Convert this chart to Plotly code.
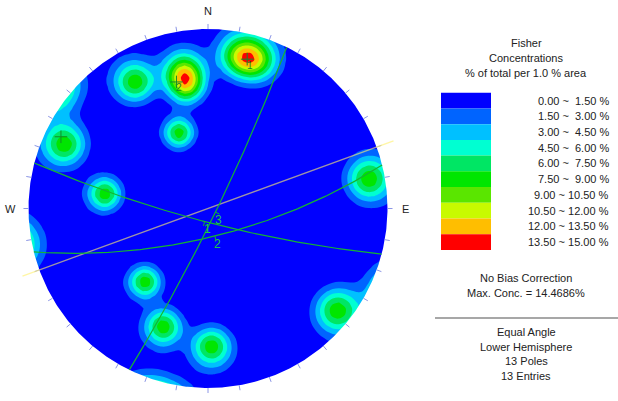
import numpy as np
import plotly.graph_objects as go

# ---------------------------------------------------------------- layout
W, H = 618, 401
CX, CY, R = 208.0, 208.5, 179.5          # net centre and radius (pixels)

# ---------------------------------------------------------------- data
# Poles to discontinuities, lower hemisphere (degrees)
POLE_TREND = [11.7, 18.1, 350.0, 350.0, 330.0, 339.0, 294.0,
              278.0, 79.6, 128.3, 220.7, 200.7, 178.5]
POLE_PLUNGE = [8.1, 8.1, 14.3, 20.7, 11.7, 41.5, 7.5,
               29.8, 5.3, 4.9, 33.4, 19.7, 14.8]

# Fisher kernel: concentration and peak value of one pole (% per 1 % area)
FISHER_K = 110.0
PEAK_PER_POLE = 8.6

# Mean set poles
SET_LABELS = ["1", "2", "3"]
SET_TREND = [14.7, 346.0, 296.0]
SET_PLUNGE = [8.6, 18.0, 5.3]

# Vertical reference plane (strike)
REF_LINE_TREND = 70.0

# Contour bands
LEVELS = [0.0, 1.5, 3.0, 4.5, 6.0, 7.5, 9.0, 10.5, 12.0, 13.5, 15.0]
BAND_COLORS = ["#0000ff", "#0064ff", "#00c0ff", "#00ffd2", "#00e664",
               "#00e600", "#5ae600", "#c8fa00", "#ffbe00", "#ff0000"]
NB = "\u00a0"
BAND_LABELS = [f"0.00 ~{NB}{NB}1.50 %", f"1.50 ~{NB}{NB}3.00 %",
               f"3.00 ~{NB}{NB}4.50 %", f"4.50 ~{NB}{NB}6.00 %",
               f"6.00 ~{NB}{NB}7.50 %", f"7.50 ~{NB}{NB}9.00 %",
               "9.00 ~ 10.50 %", "10.50 ~ 12.00 %",
               "12.00 ~ 13.50 %", "13.50 ~ 15.00 %"]

CARDINALS = ["N", "E", "S", "W"]


# ---------------------------------------------------------------- helpers
def vec(trend, plunge):
    t, p = np.radians(trend), np.radians(plunge)
    return np.array([np.cos(p) * np.sin(t), np.cos(p) * np.cos(t), -np.sin(p)])


def project(v):
    """Equal-angle (stereographic) projection, lower hemisphere."""
    v = np.atleast_2d(v)
    v = np.where(v[:, 2:3] > 0, -v, v)
    return v[:, 0] / (1 - v[:, 2]), v[:, 1] / (1 - v[:, 2])


def plane_points(dip_dir, dip, n=181):
    dd, dp = np.radians(dip_dir), np.radians(dip)
    s = np.array([np.sin(dd - np.pi / 2), np.cos(dd - np.pi / 2), 0.0])
    d = np.array([np.sin(dd) * np.cos(dp), np.cos(dd) * np.cos(dp), -np.sin(dp)])
    t = np.linspace(0, np.pi, n)
    return np.outer(np.cos(t), s) + np.outer(np.sin(t), d)


def px(x):
    return x / W


def py(y):
    return 1 - y / H


# ---------------------------------------------------------------- density grid
g = np.arange(-1.12, 1.1201, 0.033)
U, V = np.meshgrid(g, g)
rho2 = U ** 2 + V ** 2
GX = 2 * U / (1 + rho2)
GY = 2 * V / (1 + rho2)
GZ = -(1 - rho2) / (1 + rho2)

dens = np.zeros_like(U)
for tr, pl in zip(POLE_TREND, POLE_PLUNGE):
    p = vec(tr, pl)
    c = np.abs(GX * p[0] + GY * p[1] + GZ * p[2])
    dens += PEAK_PER_POLE * np.exp(FISHER_K * (c - 1))

nb = len(BAND_COLORS)
colorscale = [[i / (nb - 1), c] for i, c in enumerate(BAND_COLORS)]

fig = go.Figure()
fig.add_trace(go.Contour(
    x=g, y=g, z=dens, autocontour=False,
    contours=dict(start=LEVELS[1], end=LEVELS[-2], size=LEVELS[1] - LEVELS[0],
                  coloring="fill", showlines=False),
    colorscale=colorscale, showscale=False, line_width=0, hoverinfo="skip"))

# white surround outside the primitive circle
x0, x1 = -CX / R, (W - CX) / R
y0, y1 = (CY - H) / R, CY / R
a = np.linspace(0, 2 * np.pi, 721)
mx = [x0 - 1, x1 + 1, x1 + 1, x0 - 1, x0 - 1, None] + list(np.cos(a))
my = [y1 + 1, y1 + 1, y0 - 1, y0 - 1, y1 + 1, None] + list(np.sin(a))
fig.add_trace(go.Scatter(x=mx, y=my, mode="lines", fill="toself",
                         fillcolor="white", line=dict(width=0, color="white"),
                         hoverinfo="skip"))

# perimeter ticks every 10 degrees
tx, ty = [], []
for az in range(0, 360, 10):
    r_ = np.radians(az)
    tx += [np.sin(r_), 1.028 * np.sin(r_), None]
    ty += [np.cos(r_), 1.028 * np.cos(r_), None]
fig.add_trace(go.Scatter(x=tx, y=ty, mode="lines",
                         line=dict(color="#8c96e6", width=1), hoverinfo="skip"))

# vertical reference plane
rt = np.radians(REF_LINE_TREND)
fig.add_trace(go.Scatter(x=[-1.1 * np.sin(rt), 1.1 * np.sin(rt)],
                         y=[-1.1 * np.cos(rt), 1.1 * np.cos(rt)], mode="lines",
                         line=dict(color="rgba(255,240,110,0.62)", width=1.3),
                         hoverinfo="skip"))

# mean set planes, their labels and mean poles
GREEN = "#14b432"
for lab, tr, pl in zip(SET_LABELS, SET_TREND, SET_PLUNGE):
    dd, dip = (tr + 180) % 360, 90 - pl
    u, w = project(plane_points(dd, dip))
    fig.add_trace(go.Scatter(x=u, y=w, mode="lines",
                             line=dict(color=GREEN, width=1.2), hoverinfo="skip"))
    mu, mw = project(plane_points(dd, dip, 3)[1])
    ddr = np.radians(dd)
    fig.add_trace(go.Scatter(x=[mu[0], mu[0] + 0.025 * np.sin(ddr)],
                             y=[mw[0], mw[0] + 0.025 * np.cos(ddr)], mode="lines",
                             line=dict(color=GREEN, width=1), hoverinfo="skip"))
    fig.add_annotation(x=mu[0], y=mw[0], text=lab, showarrow=False,
                       xshift=3, yshift=-7.5,
                       font=dict(family="Liberation Sans, Arial", size=12, color="#1ec846"))
    pu, pw = project(vec(tr, pl))
    fig.add_trace(go.Scatter(x=pu, y=pw, mode="markers",
                             marker=dict(symbol="cross-thin", size=9,
                                         line=dict(color="#128c28", width=1)),
                             hoverinfo="skip"))
    if lab != "3":
        fig.add_annotation(x=pu[0], y=pw[0], text=lab, showarrow=False,
                           xshift=3, yshift=-6,
                           font=dict(family="Liberation Sans, Arial", size=10,
                                     color="#128c28"))

# cardinal directions
FONT = dict(family="Liberation Sans, Arial", size=11, color="#222222")
for lab, az in zip(CARDINALS, [0, 90, 180, 270]):
    r_ = np.radians(az)
    fig.add_annotation(x=1.1 * np.sin(r_), y=1.1 * np.cos(r_) - (0.01 if az == 180 else 0),
                       text=lab, showarrow=False, font=FONT)

# ---------------------------------------------------------------- legend
LEG_X0, LEG_X1, LEG_Y0, LEG_Y1 = 441, 491, 92.7, 250.0
bh = (LEG_Y1 - LEG_Y0) / nb
shapes = []
for i, (col, txt) in enumerate(zip(BAND_COLORS, BAND_LABELS)):
    ya, yb = LEG_Y0 + i * bh, LEG_Y0 + (i + 1) * bh
    shapes.append(dict(type="rect", xref="paper", yref="paper",
                       x0=px(LEG_X0), x1=px(LEG_X1), y0=py(yb), y1=py(ya),
                       fillcolor=col, line=dict(width=0)))
    fig.add_annotation(xref="paper", yref="paper", x=px(611), y=py((ya + yb) / 2),
                       xanchor="right", yanchor="middle", text=txt,
                       showarrow=False, font=FONT)

shapes.append(dict(type="line", xref="paper", yref="paper",
                   x0=px(435), x1=px(618), y0=py(318), y1=py(318),
                   line=dict(color="#8a8a8a", width=1.5)))

for txt, y in [("Fisher", 43.5), ("Concentrations", 58.5),
               ("% of total per 1.0 % area", 73.5),
               ("No Bias Correction", 278), ("Max. Conc. = 14.4686%", 293),
               ("Equal Angle", 332), ("Lower Hemisphere", 346.5),
               ("13 Poles", 361), ("13 Entries", 375.5)]:
    fig.add_annotation(xref="paper", yref="paper", x=px(526), y=py(y),
                       xanchor="center", yanchor="middle", text=txt,
                       showarrow=False, font=FONT)

fig.update_layout(
    width=W, height=H, margin=dict(l=0, r=0, t=0, b=0),
    paper_bgcolor="white", plot_bgcolor="white", showlegend=False,
    shapes=shapes,
    xaxis=dict(range=[x0, x1], visible=False, fixedrange=True),
    yaxis=dict(range=[y0, y1], visible=False, fixedrange=True),
)

fig.write_html("out.html")
